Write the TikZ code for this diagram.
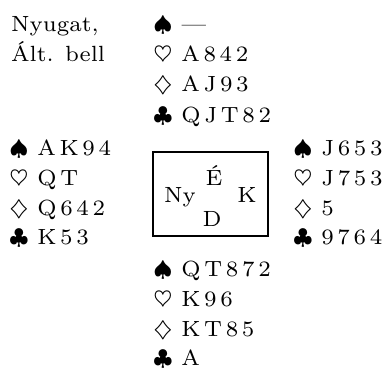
\documentclass[tikz,border=0pt]{standalone}
\usepackage{graphicx}
\newcommand{\enl}[1]{\scalebox{3.1429}{#1}}
\begin{document}
\begin{tikzpicture}[x=1pt,y=-1pt,
  txt/.style={inner sep=0pt, anchor=base west, font=\fontsize{7}{9}\selectfont},
  ctr/.style={inner sep=0pt, anchor=base, font=\fontsize{7}{9}\selectfont},
  tablebox/.style={draw, line width=1.2pt, minimum width=115pt, minimum height=84pt, inner sep=0pt}]
\useasboundingbox (0,0) rectangle (386,369);
% info
\node[txt] (info1) at (11,32) {\enl{Nyugat,}};
\node[txt] (info2) at (11,62) {\enl{Ált. bell}};
% North
\node[txt] (ns) at (153,32) {\enl{$\spadesuit$ ---}};
\node[txt] (nh) at (153,62) {\enl{$\heartsuit$ A\,8\,4\,2}};
\node[txt] (nd) at (153,92) {\enl{$\diamondsuit$ A\,J\,9\,3}};
\node[txt] (nc) at (153,122) {\enl{$\clubsuit$ Q\,J\,T\,8\,2}};
% West
\node[txt] (ws) at (9,155) {\enl{$\spadesuit$ A\,K\,9\,4}};
\node[txt] (wh) at (9,185) {\enl{$\heartsuit$ Q\,T}};
\node[txt] (wd) at (9,215) {\enl{$\diamondsuit$ Q\,6\,4\,2}};
\node[txt] (wc) at (9,244) {\enl{$\clubsuit$ K\,5\,3}};
% East
\node[txt] (es) at (293,155) {\enl{$\spadesuit$ J\,6\,5\,3}};
\node[txt] (eh) at (293,185) {\enl{$\heartsuit$ J\,7\,5\,3}};
\node[txt] (ed) at (293,215) {\enl{$\diamondsuit$ 5}};
\node[txt] (ec) at (293,244) {\enl{$\clubsuit$ 9\,7\,6\,4}};
% South
\node[txt] (ss) at (153,276) {\enl{$\spadesuit$ Q\,T\,8\,7\,2}};
\node[txt] (sh) at (153,306) {\enl{$\heartsuit$ K\,9\,6}};
\node[txt] (sd) at (153,336) {\enl{$\diamondsuit$ K\,T\,8\,5}};
\node[txt] (sc) at (153,365) {\enl{$\clubsuit$ A}};
% table
\node[tablebox] (table) at (210.5,194) {};
\node[ctr] (tn) at (214,185) {\enl{É}};
\node[ctr] (tw) at (180,202) {\enl{Ny}};
\node[ctr] (te) at (247,202) {\enl{K}};
\node[ctr] (ts) at (212,226) {\enl{D}};
\end{tikzpicture}
\end{document}
